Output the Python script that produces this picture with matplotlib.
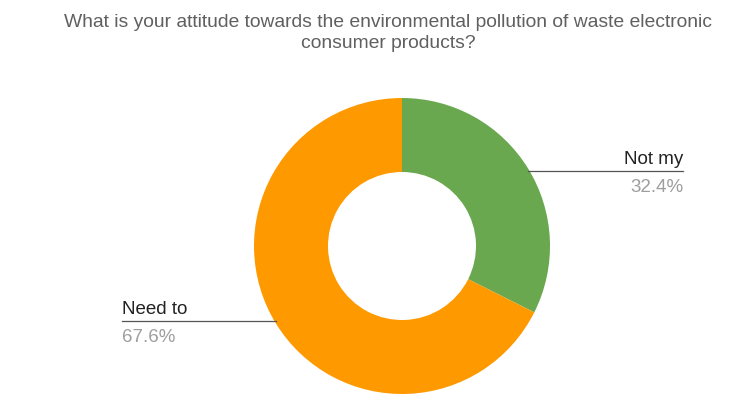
import numpy as np
import matplotlib.pyplot as plt

plt.rcParams['font.family'] = ['Liberation Sans', 'DejaVu Sans']

title = 'What is your attitude towards the environmental pollution of waste electronic\nconsumer products?'
labels = ['Not my', 'Need to']
values = [32.4, 67.6]
colors = ['#6aa84f', '#ff9900']

W, H = 741, 401
fig = plt.figure(figsize=(W / 100, H / 100), dpi=100)
ax = fig.add_axes([0, 0, 1, 1])

cx, cy, r = 402, H - 246, 148
wedges, _ = ax.pie(values, colors=colors, startangle=90, counterclock=False,
                   center=(cx, cy), radius=r, frame=True,
                   wedgeprops=dict(width=r * 0.5, edgecolor='none'))
ax.set_xlim(0, W)
ax.set_ylim(0, H)
ax.set_aspect('equal')
ax.axis('off')

# leader lines from slice midpoints, pushed a bit toward the chart centre line
line_ends = [683, 122]
for w, lab, val, xend in zip(wedges, labels, values, line_ends):
    ang = np.deg2rad((w.theta1 + w.theta2) / 2)
    x0 = cx + r * np.cos(ang)
    y0 = cy + r * np.sin(ang) - 3 * np.sign(np.sin(ang))
    ax.plot([x0, xend], [y0, y0], color='#555555', lw=0.9)
    ha = 'right' if xend > cx else 'left'
    ax.text(xend, y0 + 3, lab, ha=ha, va='bottom', fontsize=13.5, color='#222222')
    ax.text(xend, y0 - 8, f'{val}%', ha=ha, va='top', fontsize=13.5, color='#9e9e9e')

fig.text(388 / W, 1 - 14 / H, title, ha='center', va='top', fontsize=13.9,
         color='#606060', linespacing=1.32)

fig.savefig('out.png', dpi=100, facecolor='white')
